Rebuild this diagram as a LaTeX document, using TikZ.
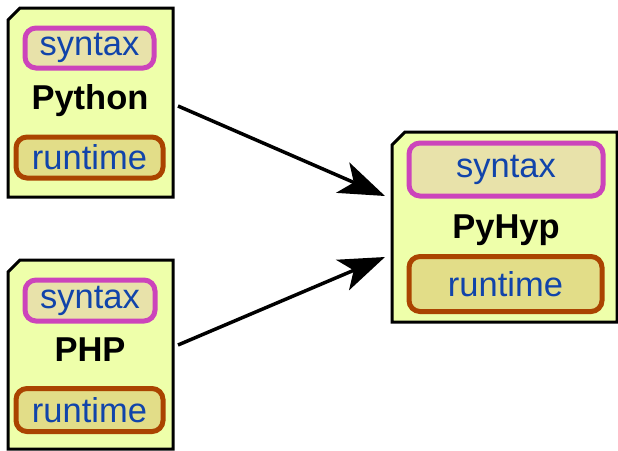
\documentclass[tikz,border=0pt]{standalone}
\usepackage{fontspec}
\setmainfont{Liberation Sans}
\usetikzlibrary{arrows.meta}
\definecolor{boxfill}{HTML}{EEFFAA}
\definecolor{synfill}{HTML}{E8E2AA}
\definecolor{synline}{HTML}{CC44BB}
\definecolor{runfill}{HTML}{E2DD88}
\definecolor{runline}{HTML}{AA4400}
\definecolor{txtblue}{HTML}{1144AA}
\tikzset{
  langbox/.style={rectangle, inner sep=0pt, outer sep=0pt},
  boxline/.style={draw=black, line width=3pt, fill=boxfill, line join=miter},
  pill/.style={rounded corners=11pt, line width=5pt, inner sep=0pt,
    text=txtblue, font=\fontsize{34.5}{40}\selectfont},
  synpill/.style={pill, draw=synline, fill=synfill},
  runpill/.style={pill, draw=runline, fill=runfill},
  lang/.style={font=\fontsize{34.5}{40}\selectfont\bfseries, anchor=base, inner sep=0pt},
  arr/.style={line width=3.5pt, -{Stealth[length=46pt,width=33pt,inset=12pt]}}
}
\newcommand{\chambox}[2]{%
  \path[boxline] ([xshift=#2]#1.north west) -- (#1.north east) -- (#1.south east)
    -- (#1.south west) -- ([yshift=-#2]#1.north west) -- cycle;}
\begin{document}
\begin{tikzpicture}[x=1pt,y=-1pt]
\useasboundingbox (0,0) rectangle (618,450);
% Python
\node[langbox, minimum width=165pt, minimum height=189pt] (py) at (90.5,102.5) {};
\chambox{py}{12pt}
\node[synpill, minimum width=129pt, minimum height=40pt] (pysyn) at (89.5,48) {syntax};
\node[lang] (pyname) at (90,109) {Python};
\node[runpill, minimum width=147pt, minimum height=41pt] (pyrun) at (89.5,157.5) {runtime};
% PHP
\node[langbox, minimum width=165pt, minimum height=189pt] (php) at (90.5,354.5) {};
\chambox{php}{12pt}
\node[synpill, minimum width=130pt, minimum height=41pt] (phpsyn) at (90,300.5) {syntax};
\node[lang] (phpname) at (90,361) {PHP};
\node[runpill, minimum width=147pt, minimum height=43pt] (phprun) at (89.5,410) {runtime};
% PyHyp
\node[langbox, minimum width=225pt, minimum height=190pt] (hyp) at (504.5,227) {};
\chambox{hyp}{13pt}
\node[synpill, minimum width=194pt, minimum height=53pt] (hypsyn) at (506,169.5) {syntax};
\node[lang] (hypname) at (506,238) {PyHyp};
\node[runpill, minimum width=193pt, minimum height=55pt] (hyprun) at (505.5,284) {runtime};
% arrows
\draw[arr] ([xshift=5pt,yshift=-3.5pt]py.east) -- ([xshift=-7pt,yshift=31pt]hyp.west);
\draw[arr] ([xshift=5pt,yshift=9.5pt]php.east) -- ([xshift=-7pt,yshift=-30pt]hyp.west);
\end{tikzpicture}
\end{document}
